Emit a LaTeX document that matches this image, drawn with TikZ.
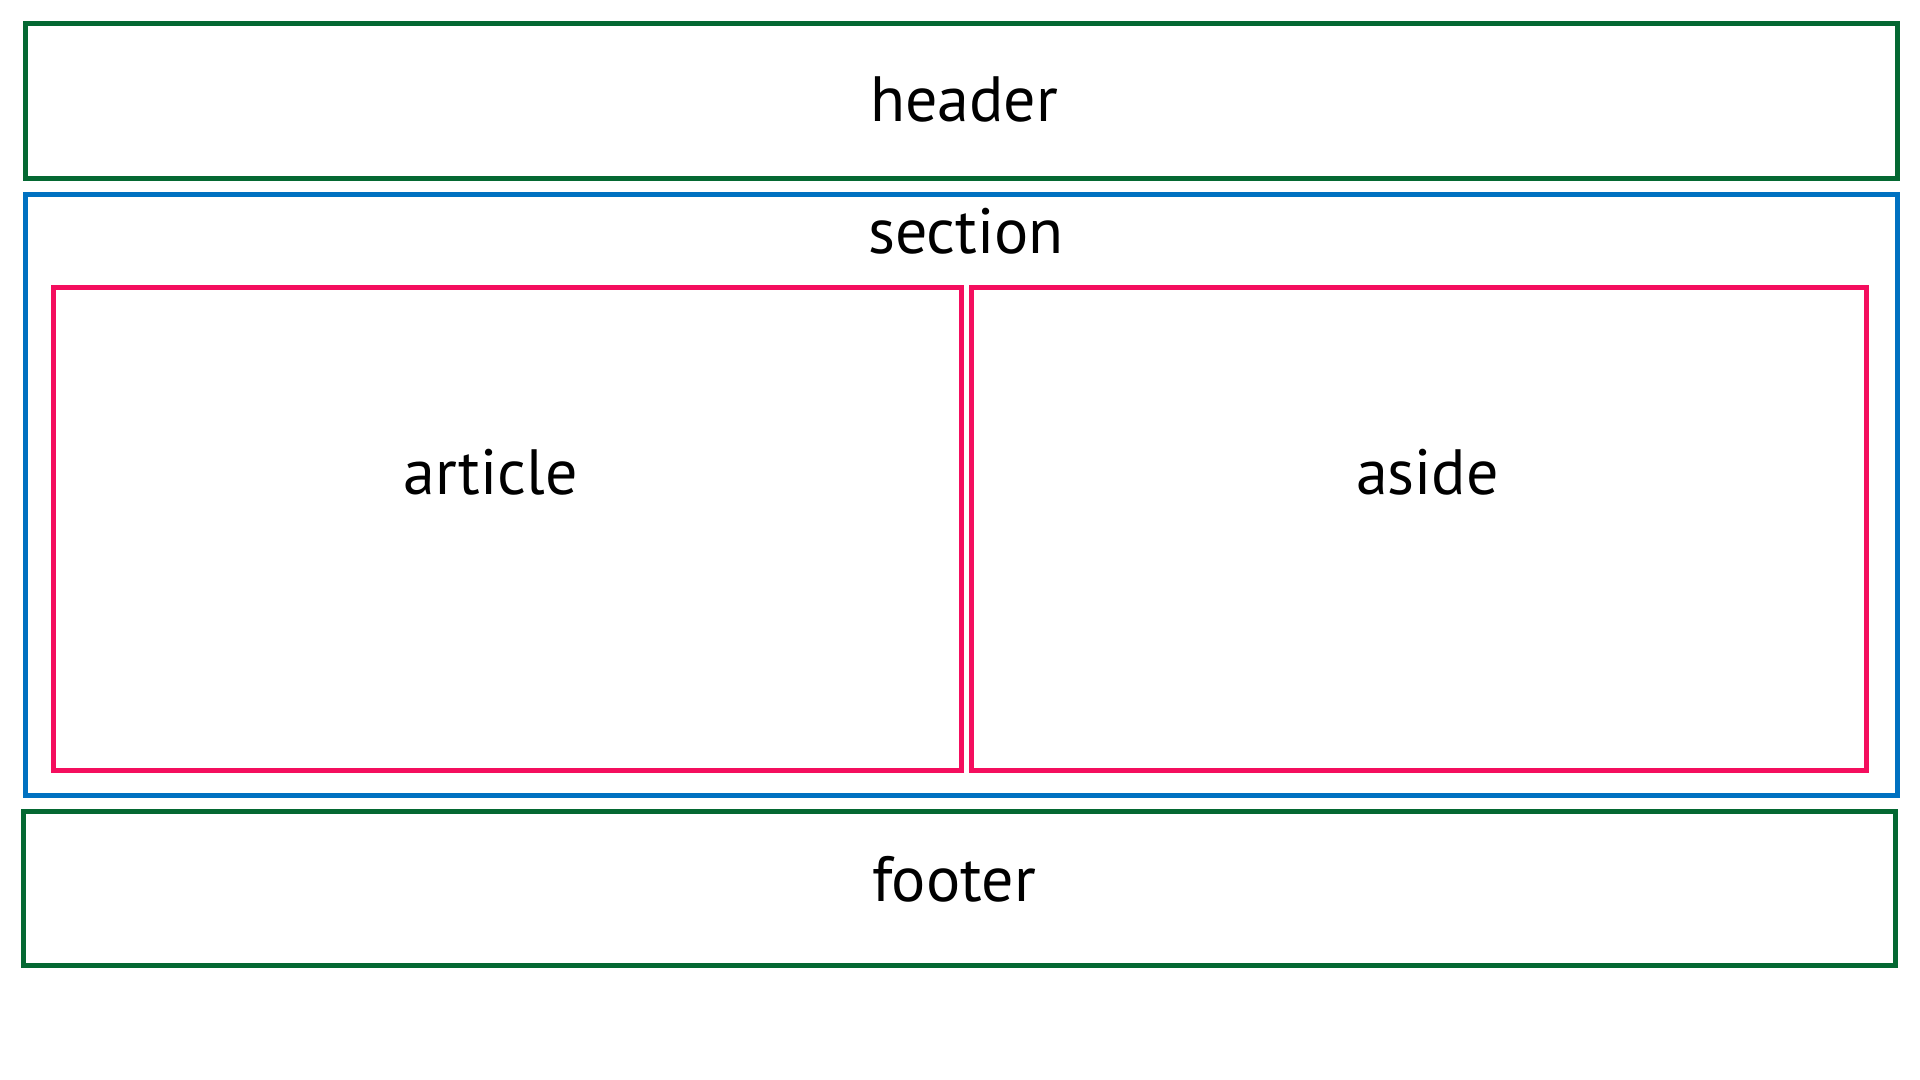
\documentclass[tikz,border=0pt]{standalone}
\usepackage{fontspec}
\setmainfont{PT Sans}
\definecolor{hgreen}{RGB}{4,104,50}
\definecolor{sblue}{RGB}{0,113,193}
\definecolor{apink}{RGB}{244,14,94}
\begin{document}
\begin{tikzpicture}[x=0.5pt,y=-0.5pt,
  box/.style={draw,line width=2.5pt,inner sep=0pt,outer sep=0pt,rectangle,anchor=north west},
  lbl/.style={anchor=base,inner sep=0pt,font=\fontsize{32}{38}\selectfont}]
\useasboundingbox (0,0) rectangle (1920,1080);
\node[box,draw=hgreen,minimum width=936pt,minimum height=77.5pt] (header) at (25.5,23.5) {};
\node[box,draw=sblue,minimum width=936pt,minimum height=300.4pt] (section) at (25.5,194.25) {};
\node[box,draw=apink,minimum width=454pt,minimum height=241.25pt] (article) at (53.5,287.5) {};
\node[box,draw=apink,minimum width=447.75pt,minimum height=241.25pt] (aside) at (971,287.5) {};
\node[box,draw=hgreen,minimum width=935.75pt,minimum height=77.1pt] (footer) at (23.5,811.25) {};
\node[lbl] (headerlbl) at (964,122) {header};
\node[lbl] (sectionlbl) at (966,254) {section};
\node[lbl] (articlelbl) at (490.5,494) {article};
\node[lbl] (asidelbl) at (1427.5,494) {aside};
\node[lbl] (footerlbl) at (954,901) {footer};
\end{tikzpicture}
\end{document}
